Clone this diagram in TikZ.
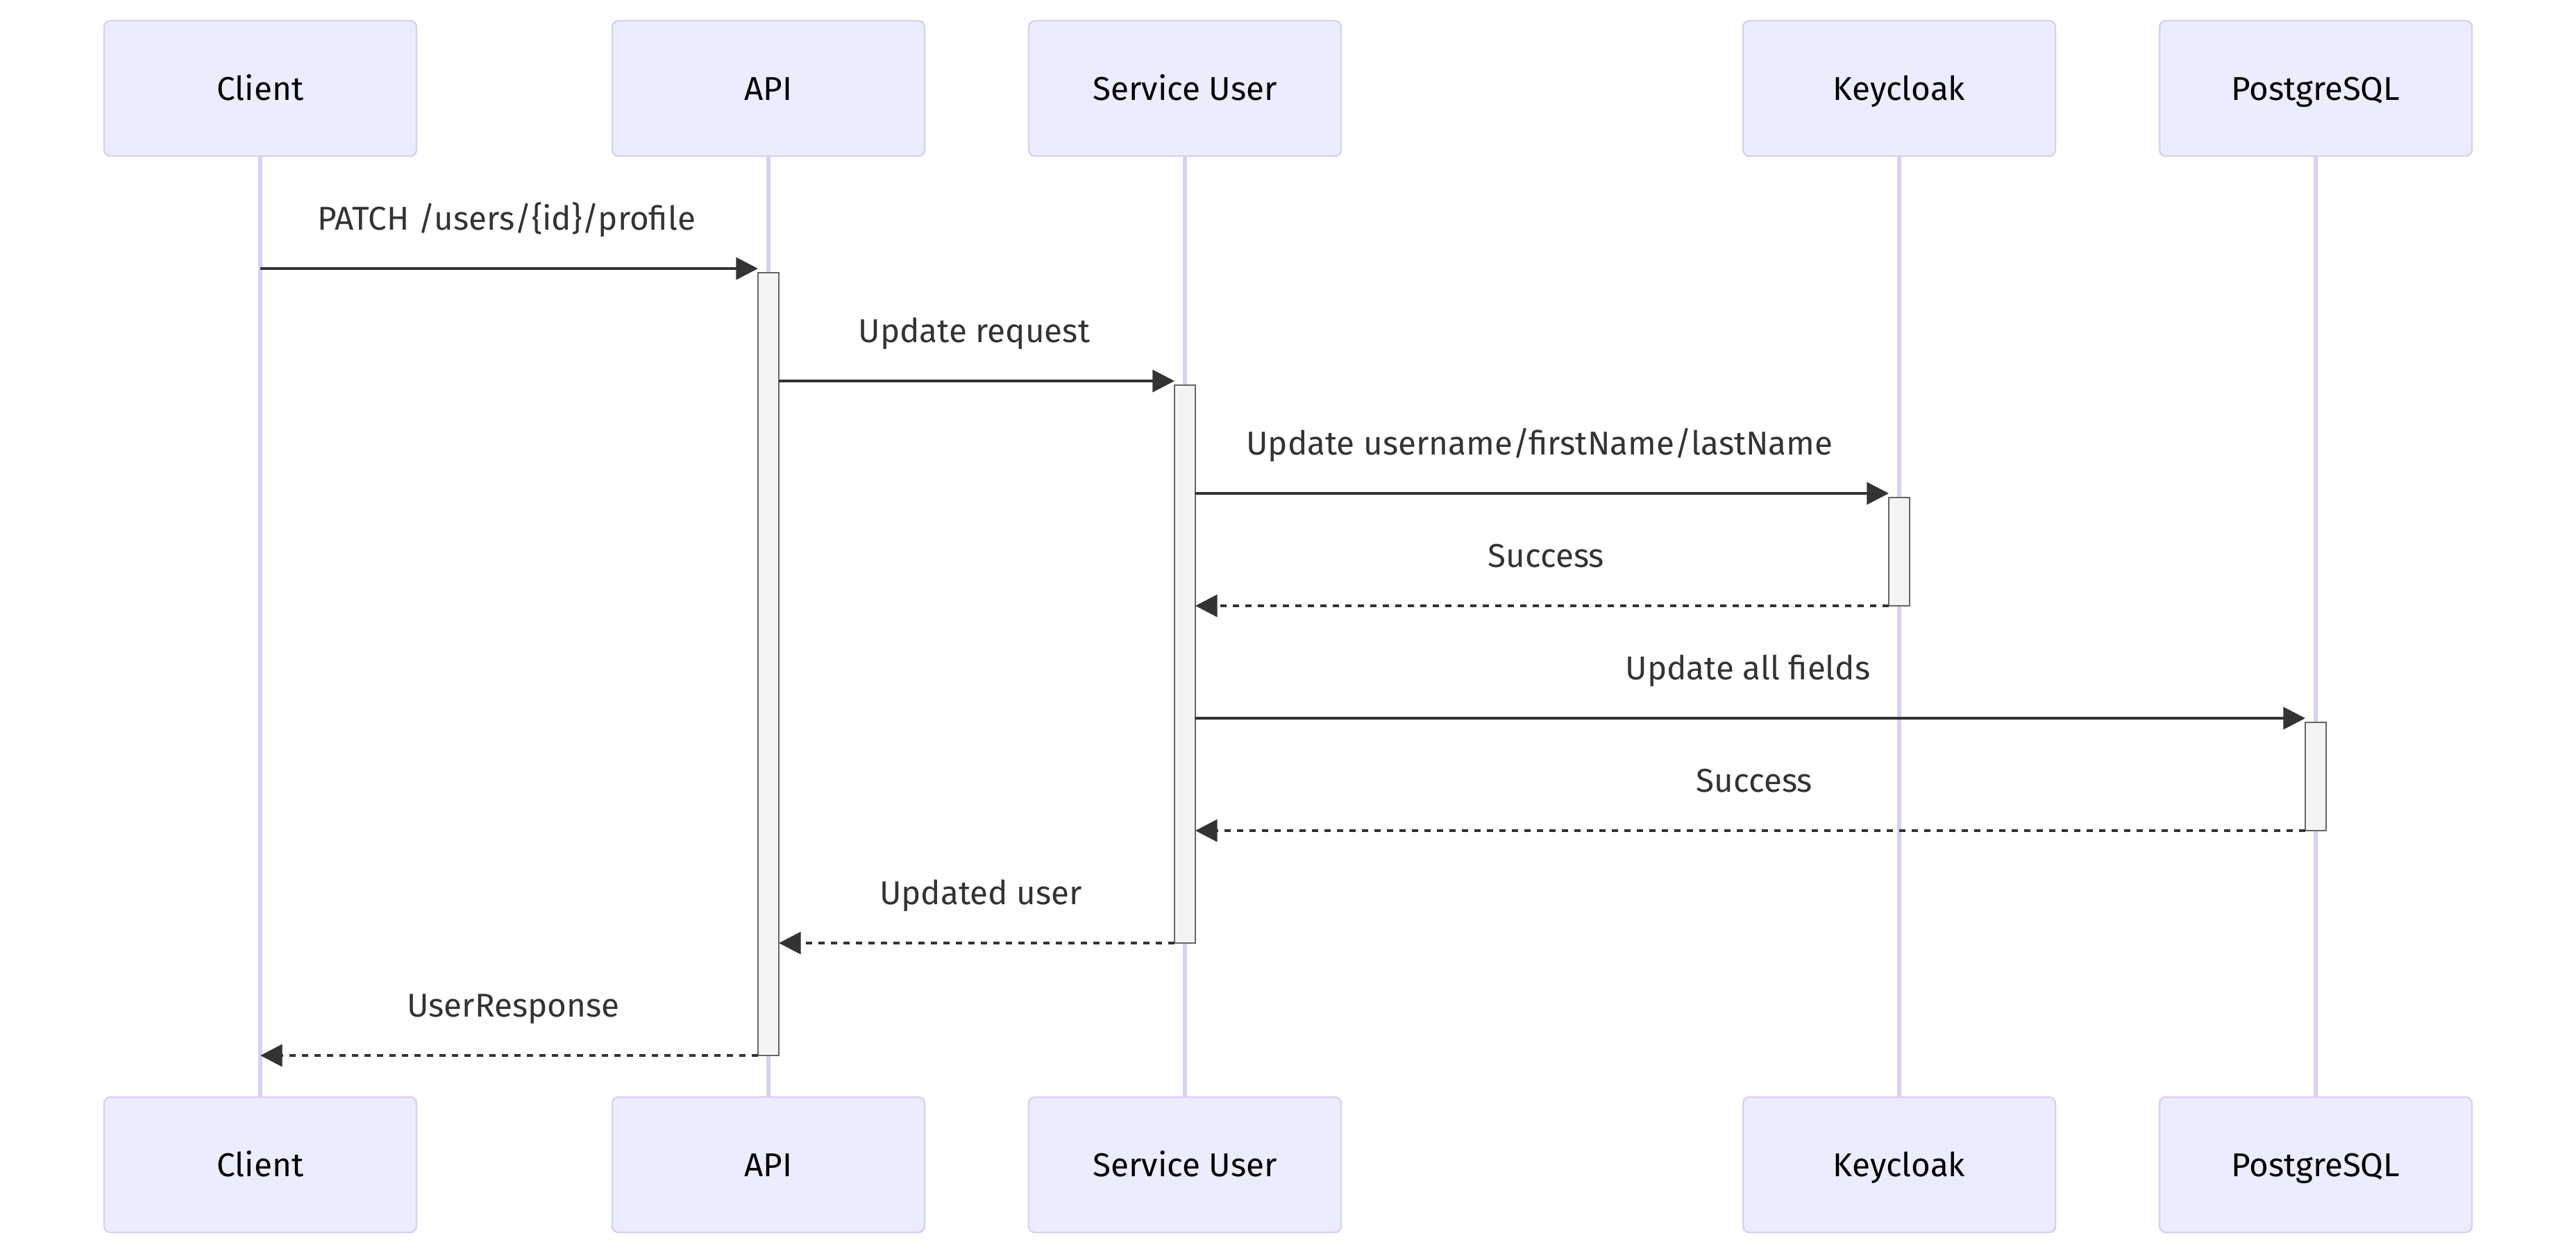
\documentclass[tikz,border=0pt]{standalone}
\usepackage{fontspec}
\setmainfont{Fira Sans}
\usetikzlibrary{%
    arrows.meta,
    positioning
}
\definecolor{actorfill}{HTML}{ECECFF}
\definecolor{actorline}{HTML}{DACEF3}
\definecolor{barfill}{HTML}{F4F4F4}
\definecolor{barline}{HTML}{666666}
\definecolor{msgcolor}{HTML}{333333}
\newcommand{\msgfont}{\fontsize{11.9}{14}\selectfont}
\tikzset{
    actorbox/.style = {draw=actorline, line width=.6pt, fill=actorfill,
                       rounded corners=2.25pt, minimum width=112.5pt,
                       minimum height=48.75pt, inner sep=0pt,
                       text height=8.4pt, text depth=0pt, font=\msgfont},
    lifeline/.style = {actorline, line width=1.5pt},
    activebar/.style = {draw=barline, fill=barfill, line width=.7pt,
                        minimum width=7.5pt, inner sep=0pt, outer sep=0pt},
    msglabel/.style = {midway, anchor=base, yshift=14pt,
                       text=msgcolor, font=\msgfont},
    callarrow/.style = {-{Triangle[length=7.9pt, width=7.9pt]},
                        msgcolor, line width=1.1pt,
                        every node/.append style={xshift=-.9pt}},
    replyarrow/.style = {-{Triangle[length=7.9pt, width=7.9pt]},
                         msgcolor, line width=1.1pt,
                         dash pattern=on 2.25pt off 2.25pt,
                         every node/.append style={xshift=1.5pt}}
}

\begin{document}
\begin{tikzpicture}[x=.75pt, y=-.75pt]
    \useasboundingbox (0,0) rectangle (1237,603);

    \foreach \Name/\Text/\X in {%
        client/Client/125,
        api/API/369,
        user/Service User/569,
        kc/Keycloak/912,
        pg/PostgreSQL/1112%
    }
        {
            \node (top-\Name) [actorbox] at (\X,42.5) {\Text};
            \node (bot-\Name) [actorbox] at (\X,559.5) {\Text};
            \draw[lifeline] (top-\Name) -- (bot-\Name);
        }

    % activation bars, calls come in just above their top
    \foreach \Name/\X/\Y/\Height in {%
        api/369/319/282pt,
        user/569/319/201pt,
        kc/912/265/39pt,
        pg/1112/373/39pt%
    }
        {
            \node (bar-\Name) [activebar, minimum height=\Height] at (\X,\Y) {};
            \coordinate (in-\Name) at ([yshift=1.5pt]bar-\Name.north west);
        }

    \foreach \Source/\Target/\Style/\Text in {%
        top-client |- in-api/in-api/callarrow/{PATCH /users/\{id\}/profile},
        bar-api.east |- in-user/in-user/callarrow/{Update request},
        bar-user.east |- in-kc/in-kc/callarrow/{Update username/firstName/lastName},
        bar-kc.south west/bar-user.east |- bar-kc.south/replyarrow/{Success},
        bar-user.east |- in-pg/in-pg/callarrow/{Update all fields},
        bar-pg.south west/bar-user.east |- bar-pg.south/replyarrow/{Success},
        bar-user.south west/bar-api.east |- bar-user.south/replyarrow/{Updated user},
        bar-api.south west/top-client |- bar-api.south/replyarrow/{UserResponse}%
    }
        \draw[\Style] (\Source) -- (\Target) node[msglabel] {\Text};
\end{tikzpicture}
\end{document}
